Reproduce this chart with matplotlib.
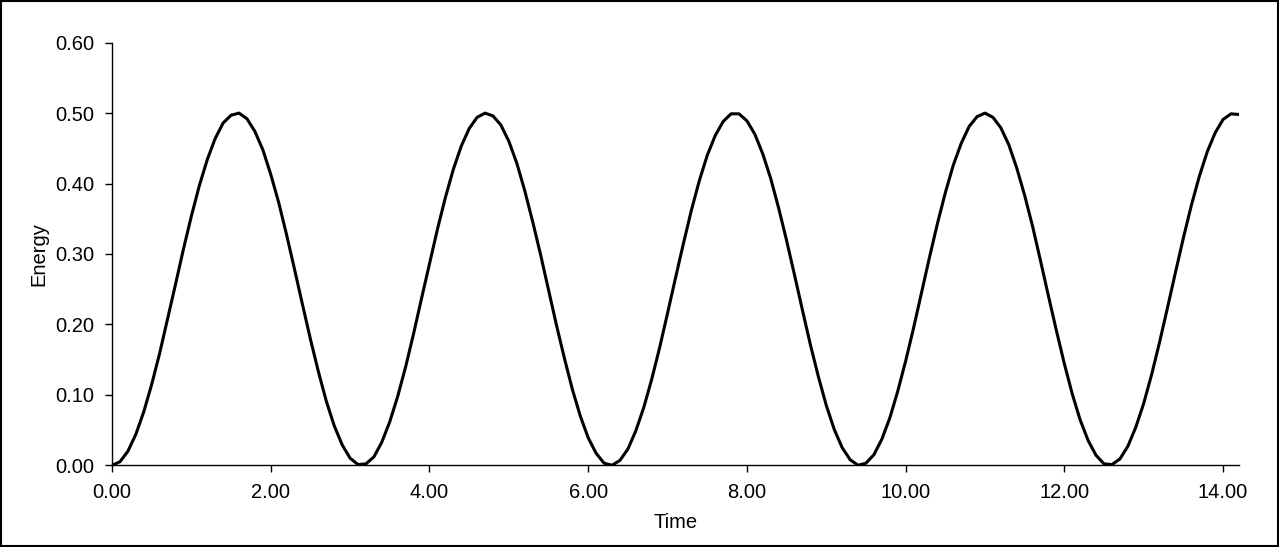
import matplotlib
matplotlib.use("Agg")
import matplotlib.pyplot as plt
from matplotlib.patches import Rectangle

time = [
    0.0, 0.1, 0.2, 0.3, 0.4, 0.5, 0.6, 0.7, 0.8, 0.9,
    1.0, 1.1, 1.2, 1.3, 1.4, 1.5, 1.6, 1.7, 1.8, 1.9,
    2.0, 2.1, 2.2, 2.3, 2.4, 2.5, 2.6, 2.7, 2.8, 2.9,
    3.0, 3.1, 3.2, 3.3, 3.4, 3.5, 3.6, 3.7, 3.8, 3.9,
    4.0, 4.1, 4.2, 4.3, 4.4, 4.5, 4.6, 4.7, 4.8, 4.9,
    5.0, 5.1, 5.2, 5.3, 5.4, 5.5, 5.6, 5.7, 5.8, 5.9,
    6.0, 6.1, 6.2, 6.3, 6.4, 6.5, 6.6, 6.7, 6.8, 6.9,
    7.0, 7.1, 7.2, 7.3, 7.4, 7.5, 7.6, 7.7, 7.8, 7.9,
    8.0, 8.1, 8.2, 8.3, 8.4, 8.5, 8.6, 8.7, 8.8, 8.9,
    9.0, 9.1, 9.2, 9.3, 9.4, 9.5, 9.6, 9.7, 9.8, 9.9,
    10.0, 10.1, 10.2, 10.3, 10.4, 10.5, 10.6, 10.7, 10.8, 10.9,
    11.0, 11.1, 11.2, 11.3, 11.4, 11.5, 11.6, 11.7, 11.8, 11.9,
    12.0, 12.1, 12.2, 12.3, 12.4, 12.5, 12.6, 12.7, 12.8, 12.9,
    13.0, 13.1, 13.2, 13.3, 13.4, 13.5, 13.6, 13.7, 13.8, 13.9,
    14.0, 14.1, 14.2,
]

energy = [
    0.000, 0.005, 0.020, 0.044, 0.076, 0.115, 0.159, 0.208, 0.257, 0.307,
    0.354, 0.397, 0.434, 0.464, 0.486, 0.497, 0.500, 0.492, 0.474, 0.448,
    0.413, 0.373, 0.327, 0.278, 0.228, 0.179, 0.133, 0.091, 0.056, 0.029,
    0.010, 0.001, 0.002, 0.012, 0.033, 0.062, 0.098, 0.140, 0.187, 0.237,
    0.286, 0.335, 0.380, 0.420, 0.453, 0.478, 0.494, 0.500, 0.496, 0.483,
    0.460, 0.429, 0.390, 0.346, 0.299, 0.249, 0.199, 0.152, 0.108, 0.070,
    0.039, 0.017, 0.003, 0.000, 0.007, 0.023, 0.049, 0.082, 0.122, 0.167,
    0.216, 0.266, 0.315, 0.362, 0.404, 0.440, 0.468, 0.488, 0.499, 0.499,
    0.489, 0.470, 0.442, 0.407, 0.365, 0.319, 0.270, 0.220, 0.171, 0.126,
    0.085, 0.051, 0.025, 0.008, 0.000, 0.003, 0.015, 0.037, 0.067, 0.105,
    0.148, 0.195, 0.245, 0.295, 0.343, 0.387, 0.426, 0.457, 0.481, 0.495,
    0.500, 0.494, 0.479, 0.455, 0.422, 0.383, 0.339, 0.290, 0.240, 0.191,
    0.144, 0.101, 0.064, 0.035, 0.014, 0.002, 0.001, 0.009, 0.027, 0.054,
    0.088, 0.129, 0.175, 0.224, 0.274, 0.323, 0.369, 0.410, 0.445, 0.472,
    0.491, 0.499, 0.498,
]

x_ticks = [0, 2, 4, 6, 8, 10, 12, 14]
y_ticks = [0.0, 0.1, 0.2, 0.3, 0.4, 0.5, 0.6]

plt.rcParams['font.family'] = ['Liberation Sans', 'DejaVu Sans']

fig = plt.figure(figsize=(12.79, 5.47), dpi=100)
ax = fig.add_axes([0.0876, 0.1494, 0.9687 - 0.0876, 0.922 - 0.1494])

ax.plot(time, energy, color='black', linewidth=2.2,
        solid_joinstyle='round', solid_capstyle='round')

ax.set_xlim(0, 14.2)
ax.set_ylim(0, 0.6)
ax.set_xticks(x_ticks)
ax.set_yticks(y_ticks)
ax.set_xticklabels([f"{v:.2f}" for v in x_ticks])
ax.set_yticklabels([f"{v:.2f}" for v in y_ticks])

for side in ['top', 'right']:
    ax.spines[side].set_visible(False)
for side in ['left', 'bottom']:
    ax.spines[side].set_linewidth(1.0)
    ax.spines[side].set_color('black')

ax.tick_params(axis='both', direction='out', length=5, width=1.0,
               labelsize=14.5, pad=8, colors='black')

ax.set_xlabel('Time', fontsize=14.5, labelpad=8)
ax.set_ylabel('Energy', fontsize=14.5, labelpad=5)

# thin black frame round the whole picture
fig.patches.append(Rectangle((0.0005, 0.001), 0.999, 0.998, transform=fig.transFigure,
                             fill=False, edgecolor='black', linewidth=1.5))

fig.savefig('out.png', dpi=100)
